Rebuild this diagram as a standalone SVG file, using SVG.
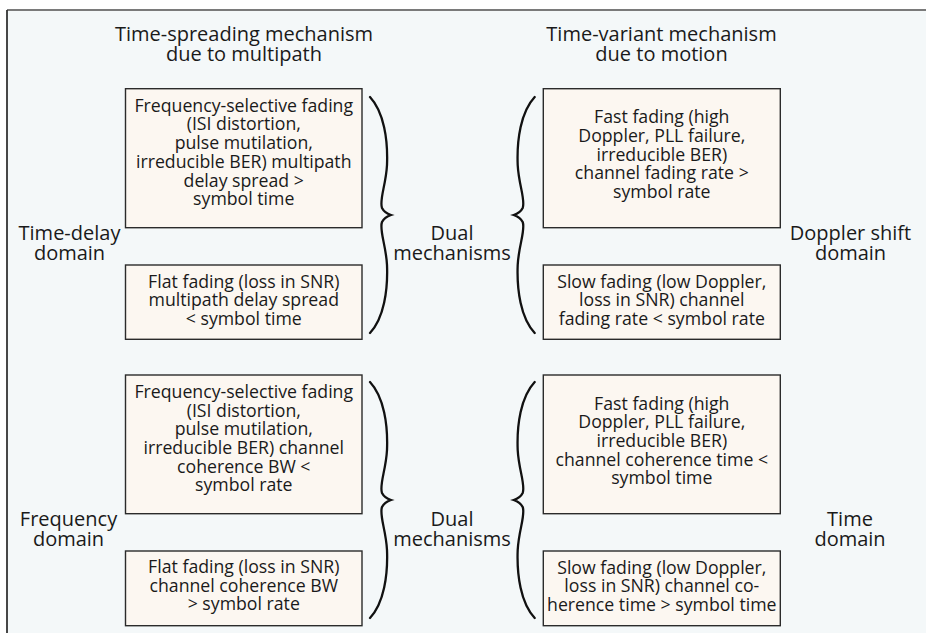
<svg xmlns="http://www.w3.org/2000/svg" xmlns:xlink="http://www.w3.org/1999/xlink" width="926" height="633" viewBox="0 0 926 633">
<style>
.box{fill:#fcf7f1;stroke:#2b2b2b;stroke-width:1.4}
.bt{font-family:"Open Sans","Liberation Sans",sans-serif;font-size:17.7px;fill:#1a1a1a;text-anchor:middle}
.lb{font-family:"Open Sans","Liberation Sans",sans-serif;font-size:20px;fill:#1a1a1a;text-anchor:middle}
.brace{fill:none;stroke:#111;stroke-width:2.3;stroke-linecap:round}
</style>
<defs>
<path id="br" class="brace" d="M370,97 C384,112 388,140 387,165 C386,185 379,200 382,208 C384,212 388,214 391,215 C388,216 384,218 382,222 C379,230 386,245 387,265 C388,290 384,318 370,333"/>
</defs>
<rect x="0" y="0" width="926" height="633" fill="#ffffff"/>
<rect x="7" y="10" width="919" height="623" fill="#f4f8f9"/>
<line x1="7" y1="10" x2="926" y2="10" stroke="#7a7a7a" stroke-width="2"/>
<line x1="7" y1="10" x2="7" y2="633" stroke="#333" stroke-width="1.8"/>

<g id="header-left"><text class="lb" x="244" y="41">Time-spreading mechanism<tspan x="244" dy="20">due to multipath</tspan></text></g>
<g id="header-right"><text class="lb" x="661.5" y="41">Time-variant mechanism<tspan x="661.5" dy="20">due to motion</tspan></text></g>
<g id="label-time-delay"><text class="lb" x="69.5" y="239.5">Time-delay<tspan x="69.5" dy="20.5">domain</tspan></text></g>
<g id="label-dual-top"><text class="lb" x="452" y="239.5">Dual<tspan x="452" dy="20.5">mechanisms</tspan></text></g>
<g id="label-doppler"><text class="lb" x="850.5" y="239.5">Doppler shift<tspan x="850.5" dy="20.5">domain</tspan></text></g>
<g id="label-frequency"><text class="lb" x="68.5" y="525.7">Frequency<tspan x="68.5" dy="19.8">domain</tspan></text></g>
<g id="label-dual-bottom"><text class="lb" x="452" y="525.7">Dual<tspan x="452" dy="19.8">mechanisms</tspan></text></g>
<g id="label-time"><text class="lb" x="850" y="525.7">Time<tspan x="850" dy="19.8">domain</tspan></text></g>

<g id="box-l1">
<rect class="box" x="125.5" y="88.7" width="236.5" height="139"/>
<text class="bt" x="243.75" y="111.7">Frequency-selective fading<tspan x="243.75" dy="18.7">(ISI distortion,</tspan><tspan x="243.75" dy="18.7">pulse mutilation,</tspan><tspan x="243.75" dy="18.7">irreducible BER) multipath</tspan><tspan x="243.75" dy="18.7">delay spread &gt;</tspan><tspan x="243.75" dy="18.5">symbol time</tspan></text>
</g>
<g id="box-l2">
<rect class="box" x="125.5" y="265" width="236.5" height="74.3"/>
<text class="bt" x="243.75" y="287.5">Flat fading (loss in SNR)<tspan x="243.75" dy="18.5">multipath delay spread</tspan><tspan x="243.75" dy="18.5">&lt; symbol time</tspan></text>
</g>
<g id="box-l3">
<rect class="box" x="125.5" y="375" width="236.5" height="138.7"/>
<text class="bt" x="243.75" y="398">Frequency-selective fading<tspan x="243.75" dy="18.7">(ISI distortion,</tspan><tspan x="243.75" dy="18.6">pulse mutilation,</tspan><tspan x="243.75" dy="18.7">irreducible BER) channel</tspan><tspan x="243.75" dy="18.7">coherence BW &lt;</tspan><tspan x="243.75" dy="18.6">symbol rate</tspan></text>
</g>
<g id="box-l4">
<rect class="box" x="125.5" y="551" width="236.5" height="74.7"/>
<text class="bt" x="243.75" y="573">Flat fading (loss in SNR)<tspan x="243.75" dy="18.7">channel coherence BW</tspan><tspan x="243.75" dy="18.6">&gt; symbol rate</tspan></text>
</g>
<g id="box-r1">
<rect class="box" x="543.3" y="88.7" width="237" height="139"/>
<text class="bt" x="661.8" y="123.3">Fast fading (high<tspan x="661.8" dy="18.6">Doppler, PLL failure,</tspan><tspan x="661.8" dy="18.6">irreducible BER)</tspan><tspan x="661.8" dy="18.5">channel fading rate &gt;</tspan><tspan x="661.8" dy="18.5">symbol rate</tspan></text>
</g>
<g id="box-r2">
<rect class="box" x="543.3" y="265" width="237" height="74.3"/>
<text class="bt" x="661.8" y="287.5">Slow fading (low Doppler,<tspan x="661.8" dy="18.5">loss in SNR) channel</tspan><tspan x="661.8" dy="18.5">fading rate &lt; symbol rate</tspan></text>
</g>
<g id="box-r3">
<rect class="box" x="543.3" y="375" width="237" height="138.7"/>
<text class="bt" x="661.8" y="409.7">Fast fading (high<tspan x="661.8" dy="18.6">Doppler, PLL failure,</tspan><tspan x="661.8" dy="18.6">irreducible BER)</tspan><tspan x="661.8" dy="18.6">channel coherence time &lt;</tspan><tspan x="661.8" dy="18.5">symbol time</tspan></text>
</g>
<g id="box-r4">
<rect class="box" x="543.3" y="551" width="237" height="74.7"/>
<text class="bt" x="661.8" y="573.5">Slow fading (low Doppler,<tspan x="661.8" dy="18.5">loss in SNR) channel co-</tspan><tspan x="661.8" dy="18.5">herence time &gt; symbol time</tspan></text>
</g>

<g id="connectors">
<use xlink:href="#br" href="#br"/>
<use xlink:href="#br" href="#br" transform="translate(904.7,0) scale(-1,1)"/>
<use xlink:href="#br" href="#br" transform="translate(0,285)"/>
<use xlink:href="#br" href="#br" transform="translate(904.7,285) scale(-1,1)"/>
</g>
</svg>
